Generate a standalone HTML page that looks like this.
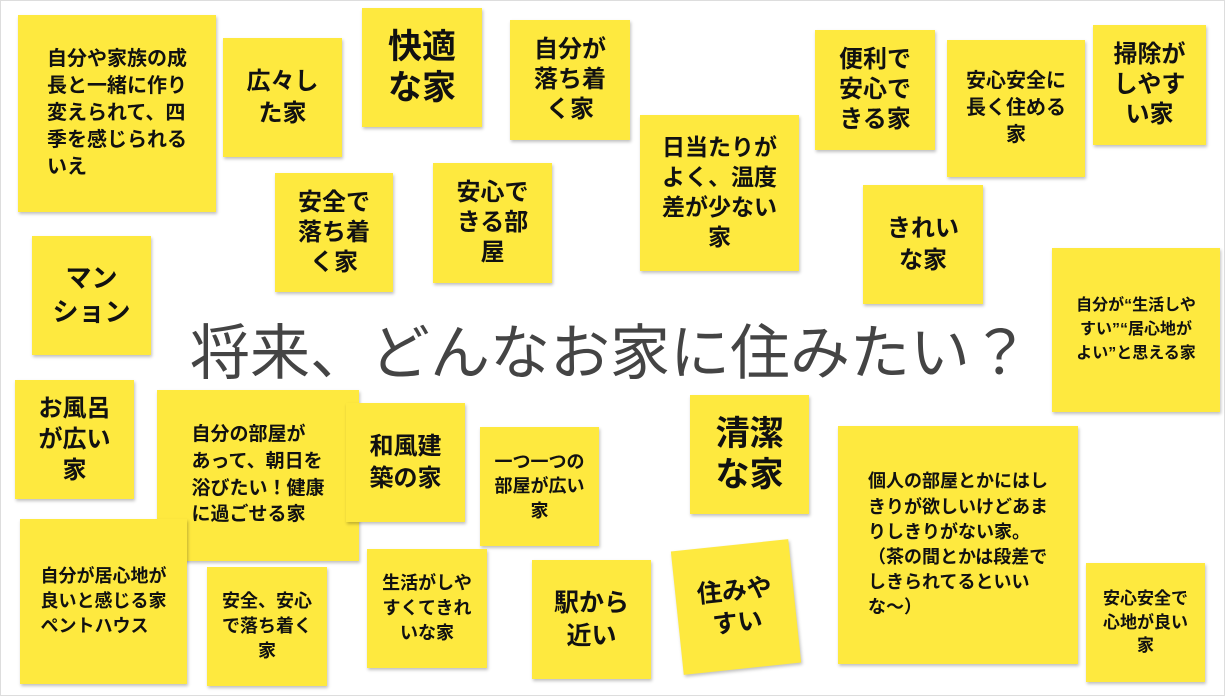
<!DOCTYPE html>
<html><head><meta charset="utf-8"><style>
html,body{margin:0;padding:0;}
body{width:1225px;height:696px;background:#fff;position:relative;overflow:hidden;font-family:"Liberation Sans","Noto Sans CJK JP",sans-serif;}
.frame{position:absolute;left:0;top:0;width:1223px;height:694px;border:1px solid #ddd;}
.n{position:absolute;background:#fee93f;box-shadow:1px 2px 3px rgba(0,0,0,0.25);display:flex;align-items:center;justify-content:center;text-align:center;font-weight:bold;color:#111;box-sizing:border-box;padding:4px;line-height:1.3;white-space:nowrap;}
.l{text-align:left;}
.t{position:absolute;left:100px;top:305px;width:1020px;text-align:center;font-size:60px;color:#444;white-space:nowrap;}
</style></head><body>
<div class="frame"></div>
<div class="n l" style="left:18px;top:15px;width:198px;height:197px;font-size:20px;line-height:27px;"><div>自分や家族の成<br>長と一緒に作り<br>変えられて、四<br>季を感じられる<br>いえ</div></div>
<div class="n" style="left:223px;top:38px;width:119px;height:119px;font-size:24px;">広々し<br>た家</div>
<div class="n" style="left:362px;top:8px;width:120px;height:119px;font-size:34px;line-height:1.2;">快適<br>な家</div>
<div class="n" style="left:510px;top:20px;width:120px;height:120px;font-size:24px;line-height:1.25;">自分が<br>落ち着<br>く家</div>
<div class="n" style="left:640px;top:115px;width:159px;height:156px;font-size:23px;line-height:1.3;">日当たりが<br>よく、温度<br>差が少ない<br>家</div>
<div class="n" style="left:815px;top:30px;width:120px;height:120px;font-size:24px;line-height:1.25;">便利で<br>安心で<br>きる家</div>
<div class="n" style="left:947px;top:40px;width:138px;height:137px;font-size:20px;line-height:1.35;">安心安全に<br>長く住める<br>家</div>
<div class="n" style="left:1093px;top:25px;width:113px;height:120px;font-size:24px;line-height:1.25;">掃除が<br>しやす<br>い家</div>
<div class="n" style="left:275px;top:173px;width:118px;height:119px;font-size:24px;line-height:1.25;">安全で<br>落ち着<br>く家</div>
<div class="n" style="left:433px;top:163px;width:119px;height:120px;font-size:24px;line-height:1.25;">安心で<br>きる部<br>屋</div>
<div class="n" style="left:863px;top:185px;width:120px;height:119px;font-size:24px;line-height:1.3;">きれい<br>な家</div>
<div class="n" style="left:32px;top:236px;width:119px;height:119px;font-size:26px;line-height:1.3;">マン<br>ション</div>
<div class="n" style="left:1052px;top:248px;width:168px;height:164px;font-size:16px;line-height:1.5;">自分が“生活しや<br>すい”“居心地が<br>よい”と思える家</div>
<div class="t">将来、どんなお家に住みたい？</div>
<div class="n" style="left:15px;top:380px;width:119px;height:119px;font-size:24px;line-height:1.3;">お風呂<br>が広い<br>家</div>
<div class="n l" style="left:157px;top:390px;width:202px;height:171px;font-size:19px;line-height:1.4;"><div>自分の部屋が<br>あって、朝日を<br>浴びたい！健康<br>に過ごせる家</div></div>
<div class="n" style="left:346px;top:403px;width:119px;height:119px;font-size:24px;line-height:1.3;">和風建<br>築の家</div>
<div class="n" style="left:480px;top:427px;width:119px;height:119px;font-size:18px;line-height:1.35;">一つ一つの<br>部屋が広い<br>家</div>
<div class="n" style="left:690px;top:395px;width:119px;height:119px;font-size:34px;line-height:1.2;">清潔<br>な家</div>
<div class="n l" style="left:838px;top:426px;width:240px;height:238px;font-size:18px;line-height:1.4;"><div>個人の部屋とかにはし<br>きりが欲しいけどあま<br>りしきりがない家。<br>（茶の間とかは段差で<br>しきられてるといい<br>な～）</div></div>
<div class="n l" style="left:20px;top:519px;width:167px;height:165px;font-size:18px;line-height:1.4;"><div>自分が居心地が<br>良いと感じる家<br>ペントハウス</div></div>
<div class="n" style="left:207px;top:567px;width:120px;height:119px;font-size:18px;line-height:1.4;">安全、安心<br>で落ち着く<br>家</div>
<div class="n" style="left:367px;top:549px;width:120px;height:119px;font-size:18px;line-height:1.4;">生活がしや<br>すくてきれ<br>いな家</div>
<div class="n" style="left:532px;top:560px;width:119px;height:119px;font-size:25px;line-height:1.3;">駅から<br>近い</div>
<div class="n" style="left:677px;top:545px;width:118px;height:124px;font-size:25px;line-height:1.3;transform:rotate(-6deg);">住みや<br>すい</div>
<div class="n" style="left:1086px;top:563px;width:119px;height:119px;font-size:17px;line-height:1.4;">安心安全で<br>心地が良い<br>家</div>
</body></html>
